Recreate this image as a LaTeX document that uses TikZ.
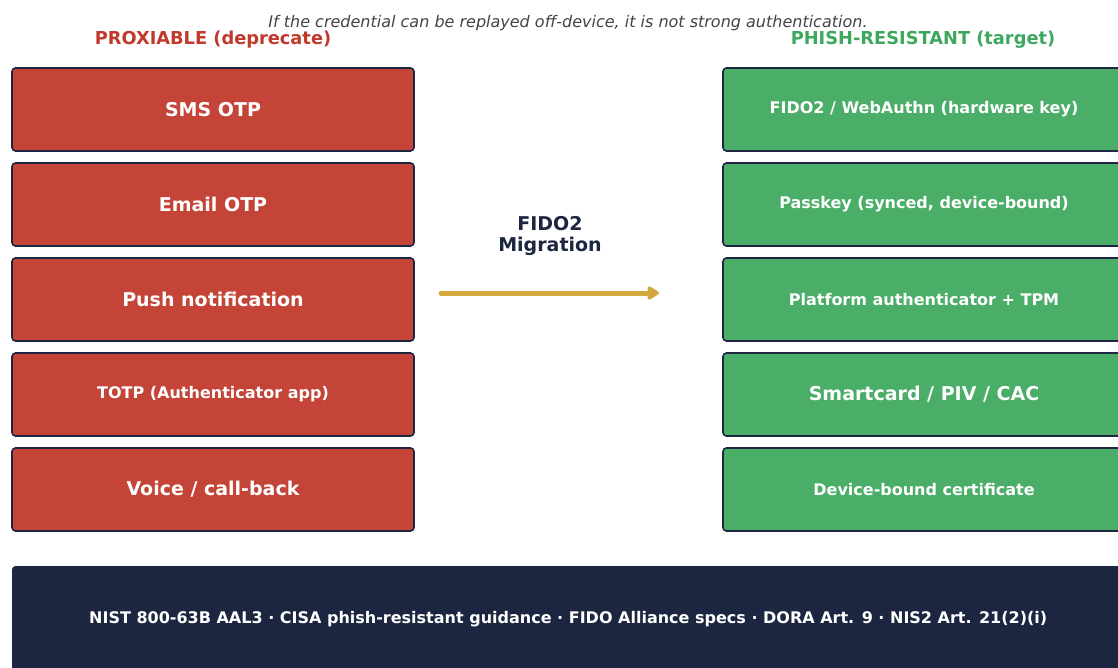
\documentclass[tikz,border=0pt]{standalone}
\usepackage{fontspec}
\setmainfont{DejaVu Sans}
\usetikzlibrary{arrows.meta}
\definecolor{cred}{HTML}{C44537}
\definecolor{cgreen}{HTML}{4BAE68}
\definecolor{cnavy}{HTML}{1C2640}
\definecolor{cgold}{HTML}{D4A83F}
\definecolor{hred}{HTML}{C0392B}
\definecolor{hgreen}{HTML}{3DA75E}
\definecolor{cgray}{HTML}{444444}
\tikzset{
  card/.style={draw=cnavy, line width=1.6pt, rounded corners=3.5pt,
    minimum width=402pt, minimum height=83pt, inner sep=0pt,
    text=white, font=\bfseries},
  oldcard/.style={card, fill=cred},
  newcard/.style={card, fill=cgreen},
  big/.style={font=\bfseries\fontsize{19}{22}\selectfont},
  small/.style={font=\bfseries\fontsize{16}{19}\selectfont},
  head/.style={font=\bfseries\fontsize{17.8}{21}\selectfont},
}
\begin{document}
\begin{tikzpicture}[x=1pt,y=-1pt]
  \useasboundingbox (0,0) rectangle (1118,668);
  \fill[white] (0,0) rectangle (1118,668);

  % caption and column headings
  \node[text=cgray, font=\itshape\fontsize{16}{19}\selectfont] (title) at (568,23) {If the credential can be replayed off-device, it is not strong authentication.};
  \node[head, text=hred] (hleft) at (213,40) {PROXIABLE (deprecate)};
  \node[head, text=hgreen] (hright) at (923,40) {PHISH-RESISTANT (target)};

  % deprecated factors
  \node[oldcard, big]   (l1) at (213,109.5) {SMS OTP};
  \node[oldcard, big]   (l2) at (213,204.5) {Email OTP};
  \node[oldcard, big]   (l3) at (213,299.5) {Push notification};
  \node[oldcard, small] (l4) at (213,394.5) {TOTP (Authenticator app)};
  \node[oldcard, big]   (l5) at (213,489.5) {Voice / call-back};

  % phish-resistant factors
  \node[newcard, small] (r1) at (924,109.5) {FIDO2 / WebAuthn (hardware key)};
  \node[newcard, small] (r2) at (924,204.5) {Passkey (synced, device-bound)};
  \node[newcard, small] (r3) at (924,299.5) {Platform authenticator + TPM};
  \node[newcard, big]   (r4) at (924,394.5) {Smartcard / PIV / CAC};
  \node[newcard, small] (r5) at (924,489.5) {Device-bound certificate};

  % migration arrow
  \node[text=cnavy, align=center, font=\bfseries\fontsize{19}{21}\selectfont] (mig) at (550,236) {FIDO2\\Migration};
  \coordinate (a0) at (441,293);
  \coordinate (a1) at (659,293);
  \draw[cgold, line width=5pt, line cap=round, -{Stealth[length=13pt,width=15pt,round,inset=0pt]}] (a0) -- (a1);

  % references bar
  \node[fill=cnavy, draw=cnavy, rounded corners=3.5pt, minimum width=1112pt, minimum height=106pt,
        text=white, font=\bfseries\fontsize{16}{19}\selectfont, anchor=north west, inner sep=0pt] (bar) at (12,566)
        {NIST 800-63B AAL3 · CISA phish-resistant guidance · FIDO Alliance specs · DORA Art. 9 · NIS2 Art. 21(2)(i)};
\end{tikzpicture}
\end{document}
